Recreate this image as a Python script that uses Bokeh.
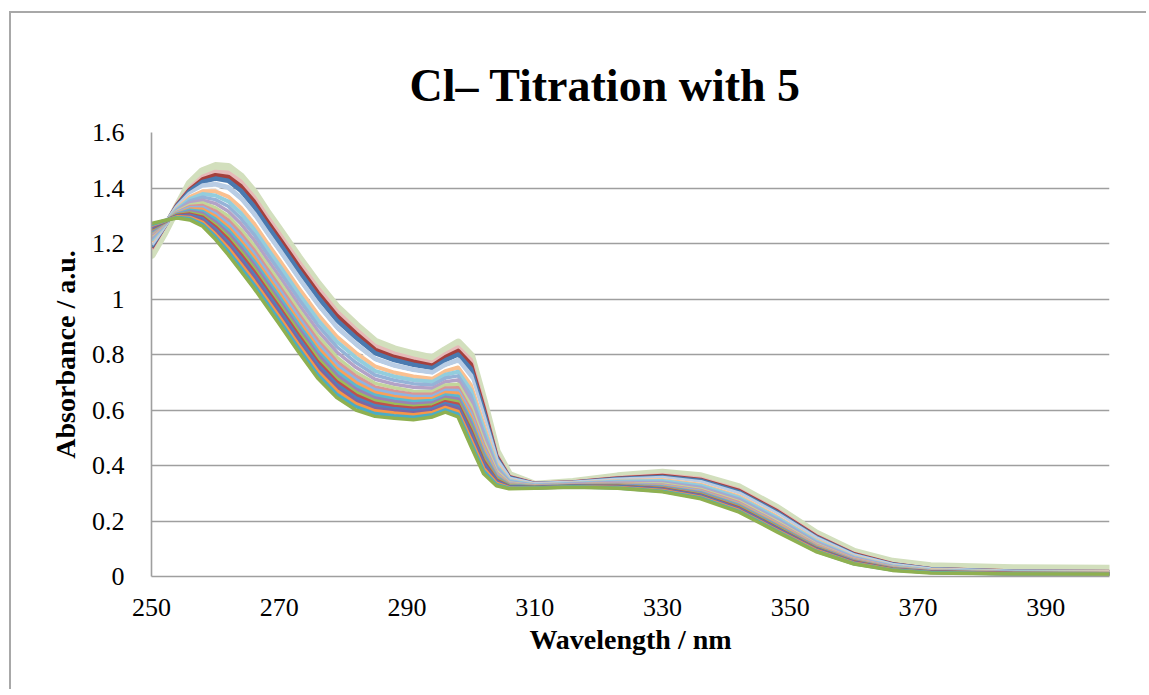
from bokeh.plotting import figure
from bokeh.models import Range1d, FixedTicker, CustomJSTickFormatter
from bokeh.embed import file_html
from bokeh.resources import INLINE

# wavelength grid (nm)
wavelength = [250, 252, 254, 256, 258, 260, 262, 264, 266, 268, 270, 273, 276, 279, 282, 285,
              288, 291, 294, 296, 298, 300, 302, 304, 306, 310, 316, 323, 330, 336, 342, 348,
              354, 360, 366, 372, 385, 400]

# thick pale-green spectrum (highest)
spec_green = [1.160, 1.240, 1.330, 1.415, 1.460, 1.478, 1.475, 1.440, 1.385, 1.315, 1.250, 1.150,
              1.055, 0.970, 0.905, 0.845, 0.818, 0.800, 0.785, 0.815, 0.842, 0.795, 0.630, 0.450,
              0.365, 0.330, 0.340, 0.360, 0.373, 0.360, 0.320, 0.245, 0.155, 0.088, 0.052, 0.036,
              0.029, 0.027]

# titration spectra, from top (first) to bottom (last)
spec_00 = [1.180, 1.260, 1.340, 1.400, 1.440, 1.458, 1.455, 1.422, 1.368, 1.300, 1.235, 1.135, 1.040, 0.955, 0.890, 0.830, 0.803, 0.785, 0.770, 0.800, 0.825, 0.780, 0.620, 0.440, 0.360, 0.335, 0.340, 0.355, 0.365, 0.352, 0.312, 0.238, 0.148, 0.082, 0.045, 0.027, 0.018, 0.016]
spec_01 = [1.185, 1.261, 1.338, 1.394, 1.431, 1.446, 1.440, 1.406, 1.352, 1.284, 1.219, 1.119, 1.024, 0.940, 0.876, 0.817, 0.791, 0.774, 0.760, 0.790, 0.813, 0.765, 0.608, 0.434, 0.358, 0.334, 0.339, 0.353, 0.362, 0.348, 0.308, 0.234, 0.145, 0.080, 0.044, 0.026, 0.018, 0.016]
spec_02 = [1.189, 1.262, 1.335, 1.389, 1.422, 1.434, 1.426, 1.390, 1.335, 1.268, 1.203, 1.103, 1.008, 0.924, 0.861, 0.805, 0.780, 0.763, 0.751, 0.779, 0.800, 0.749, 0.595, 0.429, 0.356, 0.333, 0.338, 0.351, 0.359, 0.345, 0.304, 0.230, 0.142, 0.078, 0.043, 0.026, 0.017, 0.015]
spec_03 = [1.197, 1.264, 1.331, 1.379, 1.408, 1.414, 1.402, 1.364, 1.309, 1.242, 1.177, 1.077, 0.982, 0.899, 0.838, 0.784, 0.761, 0.745, 0.735, 0.763, 0.780, 0.724, 0.575, 0.420, 0.352, 0.332, 0.337, 0.348, 0.354, 0.339, 0.298, 0.224, 0.138, 0.075, 0.041, 0.024, 0.016, 0.015]
spec_04 = [1.202, 1.265, 1.329, 1.373, 1.398, 1.401, 1.386, 1.346, 1.291, 1.224, 1.159, 1.059, 0.964, 0.882, 0.822, 0.771, 0.748, 0.733, 0.724, 0.751, 0.766, 0.707, 0.561, 0.413, 0.350, 0.331, 0.336, 0.346, 0.351, 0.335, 0.293, 0.220, 0.134, 0.073, 0.040, 0.024, 0.016, 0.014]
spec_05 = [1.207, 1.267, 1.326, 1.367, 1.388, 1.388, 1.369, 1.329, 1.273, 1.206, 1.141, 1.041, 0.946, 0.865, 0.806, 0.757, 0.735, 0.721, 0.713, 0.740, 0.753, 0.690, 0.548, 0.407, 0.347, 0.330, 0.335, 0.344, 0.348, 0.331, 0.289, 0.215, 0.131, 0.071, 0.038, 0.023, 0.015, 0.014]
spec_06 = [1.212, 1.268, 1.323, 1.360, 1.378, 1.373, 1.352, 1.309, 1.253, 1.186, 1.121, 1.021, 0.926, 0.847, 0.789, 0.741, 0.721, 0.708, 0.702, 0.727, 0.738, 0.672, 0.533, 0.400, 0.345, 0.329, 0.334, 0.342, 0.344, 0.327, 0.284, 0.211, 0.128, 0.069, 0.037, 0.022, 0.015, 0.013]
spec_07 = [1.218, 1.269, 1.320, 1.353, 1.367, 1.358, 1.334, 1.290, 1.234, 1.167, 1.102, 1.002, 0.907, 0.828, 0.771, 0.726, 0.707, 0.695, 0.690, 0.715, 0.723, 0.653, 0.518, 0.394, 0.342, 0.328, 0.333, 0.340, 0.340, 0.322, 0.279, 0.206, 0.124, 0.067, 0.036, 0.021, 0.014, 0.013]
spec_08 = [1.223, 1.271, 1.317, 1.346, 1.356, 1.344, 1.316, 1.271, 1.214, 1.147, 1.082, 0.982, 0.887, 0.809, 0.754, 0.711, 0.693, 0.682, 0.678, 0.702, 0.708, 0.634, 0.503, 0.387, 0.339, 0.327, 0.332, 0.338, 0.337, 0.318, 0.274, 0.201, 0.121, 0.065, 0.034, 0.020, 0.014, 0.012]
spec_09 = [1.229, 1.272, 1.315, 1.339, 1.346, 1.329, 1.299, 1.251, 1.194, 1.128, 1.063, 0.963, 0.868, 0.791, 0.736, 0.696, 0.680, 0.668, 0.667, 0.690, 0.693, 0.616, 0.488, 0.380, 0.337, 0.326, 0.330, 0.335, 0.333, 0.314, 0.270, 0.197, 0.117, 0.062, 0.033, 0.020, 0.013, 0.012]
spec_10 = [1.233, 1.273, 1.312, 1.333, 1.337, 1.317, 1.284, 1.235, 1.178, 1.112, 1.047, 0.947, 0.852, 0.775, 0.722, 0.683, 0.668, 0.657, 0.657, 0.679, 0.680, 0.600, 0.475, 0.374, 0.334, 0.325, 0.330, 0.334, 0.330, 0.310, 0.266, 0.193, 0.114, 0.061, 0.032, 0.019, 0.013, 0.011]
spec_11 = [1.237, 1.274, 1.310, 1.329, 1.330, 1.307, 1.272, 1.222, 1.165, 1.099, 1.034, 0.934, 0.839, 0.763, 0.710, 0.673, 0.659, 0.649, 0.649, 0.671, 0.670, 0.588, 0.465, 0.370, 0.333, 0.324, 0.329, 0.332, 0.328, 0.307, 0.262, 0.190, 0.112, 0.059, 0.031, 0.018, 0.012, 0.011]
spec_12 = [1.241, 1.275, 1.308, 1.324, 1.323, 1.298, 1.260, 1.209, 1.152, 1.086, 1.021, 0.921, 0.826, 0.750, 0.699, 0.663, 0.649, 0.640, 0.641, 0.663, 0.660, 0.575, 0.455, 0.365, 0.331, 0.324, 0.328, 0.331, 0.325, 0.304, 0.259, 0.187, 0.110, 0.058, 0.030, 0.018, 0.012, 0.011]
spec_13 = [1.244, 1.276, 1.306, 1.320, 1.315, 1.288, 1.249, 1.197, 1.138, 1.073, 1.008, 0.908, 0.813, 0.738, 0.687, 0.653, 0.640, 0.631, 0.634, 0.654, 0.650, 0.563, 0.445, 0.361, 0.329, 0.323, 0.327, 0.329, 0.323, 0.302, 0.256, 0.183, 0.107, 0.056, 0.029, 0.017, 0.012, 0.010]
spec_14 = [1.248, 1.277, 1.304, 1.315, 1.308, 1.278, 1.237, 1.184, 1.125, 1.060, 0.995, 0.895, 0.800, 0.726, 0.675, 0.643, 0.631, 0.622, 0.626, 0.646, 0.640, 0.551, 0.435, 0.356, 0.327, 0.322, 0.327, 0.328, 0.321, 0.299, 0.253, 0.180, 0.105, 0.055, 0.028, 0.017, 0.011, 0.010]
spec_15 = [1.252, 1.278, 1.303, 1.310, 1.301, 1.268, 1.225, 1.171, 1.112, 1.047, 0.982, 0.882, 0.787, 0.713, 0.664, 0.633, 0.621, 0.613, 0.618, 0.638, 0.630, 0.538, 0.425, 0.352, 0.326, 0.322, 0.326, 0.326, 0.318, 0.296, 0.250, 0.177, 0.103, 0.053, 0.027, 0.016, 0.011, 0.010]
spec_16 = [1.255, 1.279, 1.301, 1.306, 1.295, 1.260, 1.215, 1.160, 1.101, 1.035, 0.970, 0.870, 0.775, 0.702, 0.654, 0.624, 0.613, 0.606, 0.611, 0.630, 0.621, 0.527, 0.416, 0.348, 0.324, 0.321, 0.325, 0.325, 0.316, 0.293, 0.247, 0.174, 0.101, 0.052, 0.026, 0.016, 0.011, 0.009]
spec_17 = [1.258, 1.280, 1.299, 1.302, 1.289, 1.251, 1.204, 1.148, 1.089, 1.024, 0.959, 0.859, 0.764, 0.692, 0.644, 0.615, 0.605, 0.598, 0.604, 0.623, 0.613, 0.517, 0.408, 0.344, 0.323, 0.321, 0.325, 0.324, 0.314, 0.291, 0.244, 0.172, 0.099, 0.051, 0.025, 0.015, 0.010, 0.009]
spec_18 = [1.261, 1.280, 1.298, 1.298, 1.282, 1.243, 1.194, 1.137, 1.078, 1.012, 0.947, 0.847, 0.752, 0.681, 0.633, 0.606, 0.597, 0.590, 0.597, 0.616, 0.604, 0.506, 0.399, 0.340, 0.321, 0.320, 0.324, 0.322, 0.312, 0.288, 0.241, 0.169, 0.097, 0.049, 0.025, 0.015, 0.010, 0.009]
spec_19 = [1.265, 1.281, 1.296, 1.294, 1.276, 1.234, 1.184, 1.126, 1.066, 1.001, 0.936, 0.836, 0.741, 0.670, 0.623, 0.597, 0.589, 0.583, 0.591, 0.609, 0.595, 0.495, 0.390, 0.336, 0.320, 0.319, 0.323, 0.321, 0.310, 0.286, 0.238, 0.166, 0.095, 0.048, 0.024, 0.014, 0.010, 0.009]
spec_20 = [1.268, 1.282, 1.294, 1.290, 1.269, 1.225, 1.172, 1.113, 1.053, 0.988, 0.923, 0.823, 0.728, 0.657, 0.612, 0.587, 0.579, 0.574, 0.583, 0.600, 0.585, 0.482, 0.380, 0.332, 0.318, 0.319, 0.323, 0.319, 0.307, 0.283, 0.235, 0.163, 0.092, 0.046, 0.023, 0.014, 0.009, 0.008]
spec_21 = [1.272, 1.283, 1.292, 1.285, 1.262, 1.215, 1.160, 1.100, 1.040, 0.975, 0.910, 0.810, 0.715, 0.645, 0.600, 0.577, 0.570, 0.565, 0.575, 0.592, 0.575, 0.470, 0.370, 0.327, 0.316, 0.318, 0.322, 0.318, 0.305, 0.280, 0.232, 0.160, 0.090, 0.045, 0.022, 0.013, 0.009, 0.008]

spectra = [spec_00, spec_01, spec_02, spec_03, spec_04, spec_05, spec_06, spec_07, spec_08, spec_09,
           spec_10, spec_11, spec_12, spec_13, spec_14, spec_15, spec_16, spec_17, spec_18, spec_19,
           spec_20, spec_21]

series_colors = ["#E6B9B8", "#A5403D", "#4A7AB0", "#B9CDE5", "#FFFFFF", "#FAC090", "#93CDDD",
                 "#95B3D7", "#B3A2C7", "#C3D69B", "#D99694", "#8EB4E3", "#F9A05A", "#5CB8CF",
                 "#9983B5", "#9BBB59", "#C0504D", "#4F81BD", "#8064A2", "#F79646", "#4BACC6",
                 "#8FB050"]
series_widths = [4.5, 4.5, 4.5, 5, 1.5, 4, 4, 3.5, 3.5, 3.5, 3.5, 3.5, 3.5, 3.5, 3.5, 3.5, 3.5,
                 3.5, 3.5, 3.5, 3.5, 3.5]

x_ticks = [250, 270, 290, 310, 330, 350, 370, 390]
y_ticks = [0, 0.2, 0.4, 0.6, 0.8, 1.0, 1.2, 1.4, 1.6]

title_text = "Cl\u2013 Titration with 5"
x_title = "Wavelength / nm"
y_title = "Absorbance / a.u."

FONT = "Liberation Serif"
GRID = "#9f9f9f"

p = figure(width=1137, height=678, output_backend="svg", toolbar_location=None,
           x_range=Range1d(250, 400), y_range=Range1d(0, 1.6),
           min_border_left=140, min_border_right=39, min_border_top=119, min_border_bottom=115,
           margin=(11, 0, 0, 9),
           styles={"border-left": "2px solid #a8a8a8", "border-top": "2px solid #a8a8a8"})
p.outline_line_color = None
p.background_fill_color = "white"
p.border_fill_color = "white"

p.title.text = title_text
p.title.text_font = FONT
p.title.text_font_style = "bold"
p.title.text_font_size = "46px"
p.title.align = "left"
p.title.offset = 258
p.title.standoff = 44
p.title.text_color = "black"

p.line(wavelength, spec_green, line_color="#D2DFBD", line_width=8.5, line_join="round", line_cap="round")
for k, spec in enumerate(spectra):
    p.line(wavelength, spec, line_color=series_colors[k], line_width=series_widths[k], line_join="round")

p.xgrid.visible = False
p.ygrid.grid_line_color = GRID
p.ygrid.grid_line_width = 1.6

for ax in (p.xaxis[0], p.yaxis[0]):
    ax.axis_line_color = GRID
    ax.axis_line_width = 1.6
    ax.major_tick_line_color = None
    ax.minor_tick_line_color = None
    ax.major_label_text_font = FONT
    ax.major_label_text_font_size = "26px"
    ax.major_label_text_color = "black"
    ax.axis_label_text_font = FONT
    ax.axis_label_text_font_style = "bold"
    ax.axis_label_text_font_size = "28px"
    ax.axis_label_text_color = "black"

p.xaxis.ticker = FixedTicker(ticks=x_ticks)
p.yaxis.ticker = FixedTicker(ticks=y_ticks)
p.yaxis.formatter = CustomJSTickFormatter(code="return tick.toFixed(1).replace(/\\.0$/, '');")
p.xaxis.axis_label = x_title
p.yaxis.axis_label = y_title
p.yaxis.major_label_standoff = 21
p.xaxis.major_label_standoff = 16
p.yaxis.axis_label_standoff = 8
p.xaxis.axis_label_standoff = 5

open("out.html", "w").write(file_html(p, INLINE))
